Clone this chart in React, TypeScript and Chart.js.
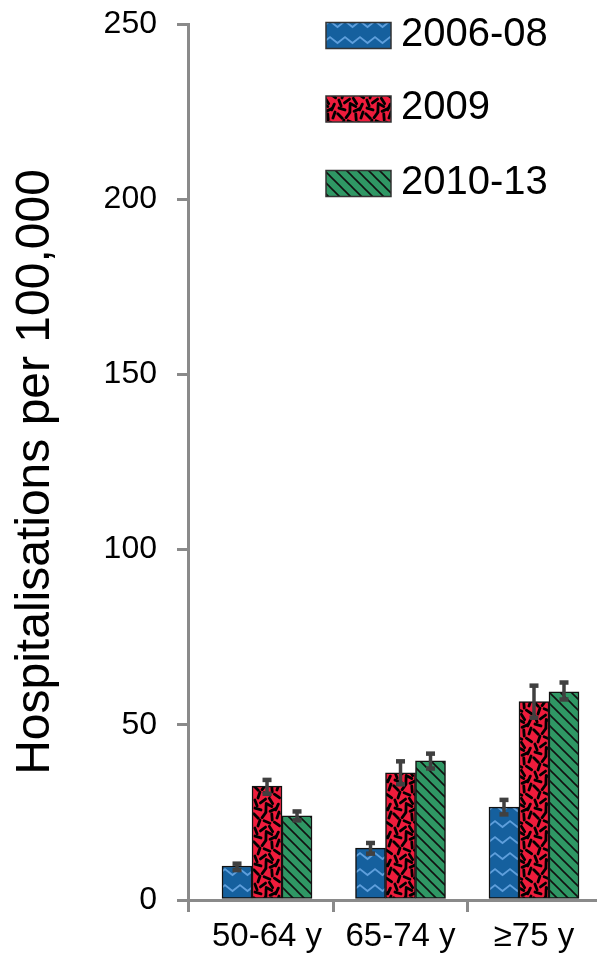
import React, { useEffect, useRef } from 'react';
import { Chart, registerables } from 'chart.js';

Chart.register(...registerables);

const categories = ['50-64 y', '65-74 y', '≥75 y'];
const seriesNames = ['2006-08', '2009', '2010-13'];
const values0608 = [9.7, 14.8, 26.5];
const values2009 = [32.5, 36.3, 56.6];
const values1013 = [24.0, 39.7, 59.4];
const low0608 = [8.6, 13.3, 24.5];
const high0608 = [10.3, 16.2, 28.5];
const low2009 = [30.4, 33.1, 52.1];
const high2009 = [34.2, 39.5, 61.1];
const low1013 = [22.8, 37.6, 57.3];
const high1013 = [25.2, 41.7, 62.0];
const yTickValues = [0, 50, 100, 150, 200, 250];
const yTitle = 'Hospitalisations per 100,000';

const seriesValues = [values0608, values2009, values1013];
const seriesLow = [low0608, low2009, low1013];
const seriesHigh = [high0608, high2009, high1013];

const FONT = "'Liberation Sans', Arial, sans-serif";
const GRAY = '#8a8a8a';

function makePattern(kind: number): CanvasPattern | string {
  const c = document.createElement('canvas');
  const g = c.getContext('2d');
  if (!g) return '#888';
  if (kind === 0) {
    c.width = 15; c.height = 16;
    g.fillStyle = '#15609e';
    g.fillRect(0, 0, 15, 16);
    g.strokeStyle = '#5f9fdc';
    g.lineWidth = 1.8;
    g.beginPath();
    g.moveTo(-1.5, 4);
    g.lineTo(7.5, 11);
    g.lineTo(16.5, 4);
    g.stroke();
  } else if (kind === 1) {
    c.width = 28; c.height = 28;
    g.fillStyle = '#ef1c3c';
    g.fillRect(0, 0, 28, 28);
    g.strokeStyle = '#000';
    g.lineWidth = 2.8;
    g.lineCap = 'round';
    const dashes = [
      [4, 4, 0.8], [12, 3, 2.2], [20, 5, 1.5], [25, 12, 0.6], [7, 11, 1.9],
      [15, 10, 0.4], [4, 19, 1.2], [11, 17, 2.5], [19, 17, 1.0], [25, 23, 2.0],
      [6, 25, 0.3], [14, 24, 1.6], [21, 26, 2.7], [26, 3, 1.9], [17, 21, 0.5],
    ];
    const L = 3.2;
    dashes.forEach(([x, y, a]) => {
      const dx = Math.cos(a) * L;
      const dy = Math.sin(a) * L;
      for (const ox of [-28, 0, 28]) {
        for (const oy of [-28, 0, 28]) {
          g.beginPath();
          g.moveTo(x - dx + ox, y - dy + oy);
          g.lineTo(x + dx + ox, y + dy + oy);
          g.stroke();
        }
      }
    });
  } else {
    c.width = 11; c.height = 11;
    g.fillStyle = '#2f9764';
    g.fillRect(0, 0, 11, 11);
    g.strokeStyle = '#111';
    g.lineWidth = 1.6;
    for (let k = -1; k <= 1; k++) {
      g.beginPath();
      g.moveTo(k * 11 - 1, -1);
      g.lineTo(k * 11 + 12, 12);
      g.stroke();
    }
  }
  return g.createPattern(c, 'repeat') || '#888';
}

const errorBarPlugin = {
  id: 'errorBars',
  afterDatasetsDraw(chart: any) {
    const ctx = chart.ctx;
    const y = chart.scales.y;
    chart.data.datasets.forEach((_ds: any, d: number) => {
      const meta = chart.getDatasetMeta(d);
      meta.data.forEach((bar: any, i: number) => {
        const x = bar.x;
        const yl = y.getPixelForValue(seriesLow[d][i]);
        const yh = y.getPixelForValue(seriesHigh[d][i]);
        ctx.save();
        ctx.strokeStyle = '#404040';
        ctx.fillStyle = '#404040';
        ctx.lineWidth = 3.5;
        ctx.beginPath();
        ctx.moveTo(x, yl);
        ctx.lineTo(x, yh);
        ctx.stroke();
        ctx.fillRect(x - 4.5, yh - 2.5, 9, 4.5);
        ctx.fillRect(x - 4.5, yl - 2, 9, 4.5);
        ctx.restore();
      });
    });
  },
};

const legendPlugin = {
  id: 'customLegend',
  afterDraw(chart: any) {
    const ctx = chart.ctx;
    const boxX = 326;
    const centers = [35.5, 109, 183.5];
    chart.data.datasets.forEach((ds: any, d: number) => {
      const cy = centers[d];
      ctx.save();
      ctx.fillStyle = ds.backgroundColor;
      ctx.fillRect(boxX, cy - 13, 65, 26);
      ctx.strokeStyle = '#333';
      ctx.lineWidth = 1.5;
      ctx.strokeRect(boxX, cy - 13, 65, 26);
      ctx.fillStyle = '#000';
      ctx.font = `40px ${FONT}`;
      ctx.textBaseline = 'middle';
      ctx.textAlign = 'left';
      ctx.fillText(ds.label, 401, cy - 1);
      ctx.restore();
    });
    // y-axis title
    ctx.save();
    ctx.translate(36, 472);
    ctx.rotate(-Math.PI / 2);
    ctx.fillStyle = '#000';
    ctx.font = `48px ${FONT}`;
    ctx.textAlign = 'center';
    ctx.textBaseline = 'middle';
    ctx.fillText(yTitle, 0, 0);
    ctx.restore();
  },
};

export default function App() {
  const ref = useRef<HTMLCanvasElement | null>(null);

  useEffect(() => {
    if (!ref.current) return;
    const patterns = [0, 1, 2].map((k) => makePattern(k));
    const datasets = seriesNames.map((name, s) => ({
      label: name,
      data: seriesValues[s].map((v, i) => ({ x: i, y: v })),
      backgroundColor: patterns[s],
      borderColor: '#111',
      borderWidth: 1.5,
      borderSkipped: false,
      barThickness: 30,
    }));
    const xTickValues = [-0.592, 0, 0.5, 1, 1.5, 2];
    const chart = new Chart(ref.current, {
      type: 'bar',
      data: { datasets } as any,
      options: {
        responsive: false,
        animation: false,
        devicePixelRatio: 1,
        layout: { padding: { top: 24, right: 0, left: 0, bottom: 0 } },
        plugins: {
          legend: { display: false },
          tooltip: { enabled: false },
        },
        scales: {
          x: {
            type: 'linear',
            min: -0.592,
            max: 2.472,
            offset: false,
            afterBuildTicks: (s: any) => {
              s.ticks = xTickValues.map((v) => ({ value: v }));
            },
            afterFit: (s: any) => {
              s.height = 58;
              s.paddingLeft = 0;
              s.paddingRight = 0;
            },
            ticks: {
              autoSkip: false,
              maxRotation: 0,
              padding: 5,
              color: '#000',
              font: { family: FONT, size: 33 },
              callback: (v: any) => (Number.isInteger(v) ? categories[v] : ''),
            },
            grid: {
              offset: false,
              drawOnChartArea: false,
              drawTicks: true,
              tickLength: 12,
              tickWidth: 3,
              lineWidth: 3,
              color: GRAY,
              tickColor: (ctx: any) =>
                Number.isInteger(xTickValues[ctx.index]) ? 'rgba(0,0,0,0)' : GRAY,
            },
            border: { color: GRAY, width: 3 },
          } as any,
          y: {
            min: 0,
            max: 250,
            afterBuildTicks: (s: any) => {
              s.ticks = yTickValues.map((v) => ({ value: v }));
            },
            afterFit: (s: any) => {
              s.width = 188;
              s.paddingTop = 0;
              s.paddingBottom = 0;
            },
            ticks: {
              padding: 20,
              color: '#000',
              font: { family: FONT, size: 32 },
            },
            grid: {
              offset: false,
              drawOnChartArea: false,
              drawTicks: true,
              tickLength: 11,
              tickWidth: 3,
              lineWidth: 3,
              color: GRAY,
              tickColor: GRAY,
            },
            border: { color: GRAY, width: 3 },
            title: { display: false },
          } as any,
        },
      } as any,
      plugins: [errorBarPlugin, legendPlugin],
    });
    return () => chart.destroy();
  }, []);

  return (
    <div style={{ position: 'absolute', left: 0, top: 0, width: 597, height: 958, background: '#fff' }}>
      <canvas ref={ref} width={597} height={958} style={{ width: 597, height: 958, display: 'block' }} />
    </div>
  );
}
